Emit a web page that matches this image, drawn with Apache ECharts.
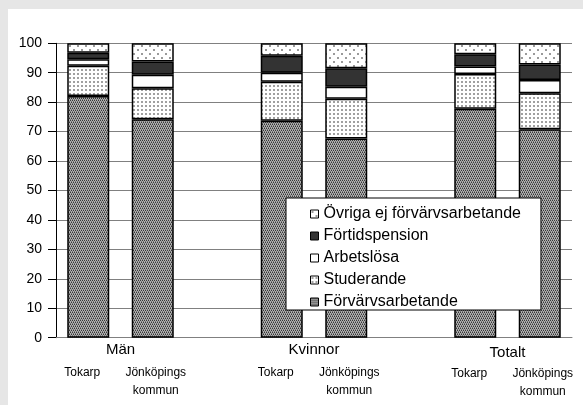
<!DOCTYPE html>
<html>
<head>
<meta charset="utf-8">
<script src="https://cdn.jsdelivr.net/npm/echarts@6/dist/echarts.min.js"></script>
<style>
html,body{margin:0;padding:0;width:583px;height:405px;overflow:hidden;background:#e6e6e6;}
#panel{position:absolute;left:8px;top:9px;width:575px;height:396px;background:#fff;}
#chart{position:absolute;left:0;top:0;width:583px;height:405px;}
</style>
</head>
<body>
<div id="panel"></div>
<div id="chart"></div>
<script>
// ---- data ----
var groups = ['Män', 'Kvinnor', 'Totalt'];
var places = ['Tokarp', 'Jönköpings kommun'];
var seriesNames = ['Förvärvsarbetande', 'Studerande', 'Arbetslösa', 'Förtidspension', 'Övriga ej förvärvsarbetande'];
// order of bars: Män Tokarp, Män Jönköping, Kvinnor Tokarp, Kvinnor Jönköping, Totalt Tokarp, Totalt Jönköping
var forvarvs  = [82.1, 74.2, 73.7, 67.7, 77.8, 70.8];
var studerande = [10.3, 10.5, 13.2, 13.5, 11.8, 12.2];
var arbetslosa = [2.2, 4.6, 3.1, 4.0, 2.5, 4.5];
var fortids   = [2.2, 4.5, 5.8, 6.3, 4.2, 5.3];
var ovriga    = [3.2, 6.2, 4.2, 8.5, 3.7, 7.2];
var yTicks = [0, 10, 20, 30, 40, 50, 60, 70, 80, 90, 100];

// ---- build category slots (blank slot between groups) ----
var cats = [];
var slotMap = []; // index into values or -1
groups.forEach(function (g, gi) {
  places.forEach(function (p, pi) { cats.push(p); slotMap.push(gi * 2 + pi); });
  if (gi < groups.length - 1) { cats.push(''); slotMap.push(-1); }
});
function slots(arr) { return slotMap.map(function (i) { return i < 0 ? '-' : arr[i]; }); }
// group label positions on a 0..N value scale (centre of each pair)
var groupPos = {};
groups.forEach(function (g, gi) { groupPos[gi * 3 + 1] = gi; });

// ---- patterns ----
function pattern(size, draw) {
  var c = document.createElement('canvas');
  c.width = size; c.height = size;
  var ctx = c.getContext('2d');
  draw(ctx, size);
  return { image: c, repeat: 'repeat' };
}
var patForv = pattern(4, function (ctx) {
  ctx.fillStyle = '#b0b0b0'; ctx.fillRect(0, 0, 4, 4);
  ctx.fillStyle = '#383838';
  ctx.fillRect(0, 0, 1, 1); ctx.fillRect(2, 0, 1, 1);
  ctx.fillRect(1, 2, 1, 1); ctx.fillRect(3, 2, 1, 1);
  ctx.fillStyle = '#747474';
  ctx.fillRect(1, 1, 1, 1); ctx.fillRect(3, 1, 1, 1);
  ctx.fillRect(0, 3, 1, 1); ctx.fillRect(2, 3, 1, 1);
});
var patStud = pattern(4, function (ctx) {
  ctx.fillStyle = '#ffffff'; ctx.fillRect(0, 0, 4, 4);
  ctx.fillStyle = '#a0a0a0'; ctx.fillRect(1, 1, 2, 2);
});
var patOvr = pattern(8, function (ctx) {
  ctx.fillStyle = '#ffffff'; ctx.fillRect(0, 0, 8, 8);
  ctx.fillStyle = '#9a9a9a'; ctx.fillRect(1, 1, 2, 2); ctx.fillRect(5, 5, 2, 2);
});
var fills = [patForv, patStud, '#ffffff', '#333333', patOvr];
var values = [forvarvs, studerande, arbetslosa, fortids, ovriga];

var font = "'Liberation Sans', Arial, sans-serif";

var series = seriesNames.map(function (n, i) {
  return {
    name: n, type: 'bar', stack: 'all', barWidth: 42,
    data: slots(values[i]),
    itemStyle: { color: fills[i], borderColor: '#000', borderWidth: 1.5 },
    emphasis: { disabled: true }
  };
});

var chart = echarts.init(document.getElementById('chart'), null, { renderer: 'canvas' });
chart.setOption({
  animation: false,
  backgroundColor: 'transparent',
  grid: { left: 56, right: 11, top: 43.3, bottom: 67.3, containLabel: false, outerBoundsMode: 'none' },
  legend: {
    data: seriesNames.slice().reverse(),
    orient: 'vertical', left: 286, top: 198,
    backgroundColor: '#fff', borderColor: '#000', borderWidth: 1,
    padding: [8, 20, 0, 24], itemGap: 6, itemWidth: 8, itemHeight: 8,
    icon: 'rect',
    itemStyle: { borderColor: '#000', borderWidth: 1 },
    textStyle: { fontFamily: font, fontSize: 16, lineHeight: 16, color: '#000' },
    selectedMode: false
  },
  xAxis: [{
    type: 'category', data: cats, gridIndex: 0,
    axisLine: { show: true, lineStyle: { color: '#808080', width: 1 } },
    axisTick: { show: false },
    axisLabel: {
      interval: 0, margin: 26, color: '#000', fontFamily: font, fontSize: 12,
      formatter: function (v, idx) {
        if (!v) return '';
        var late = idx >= 6;
        if (v === places[0]) return late ? '{t2|' + v + '}' : '{t|' + v + '}';
        var parts = v.split(' ');
        var s = late ? 'j2' : 'j';
        return '{' + s + '|' + parts[0] + '}\n{' + s + '|' + parts[1] + '}';
      },
      rich: {
        t: { fontFamily: font, fontSize: 12, lineHeight: 18, padding: [0, 12, 0, 0] },
        t2: { fontFamily: font, fontSize: 12, lineHeight: 18, padding: [2, 12, 0, 0] },
        j: { fontFamily: font, fontSize: 12, lineHeight: 18, padding: [0, 0, 0, 6] },
        j2: { fontFamily: font, fontSize: 12, lineHeight: 18, padding: [2, 0, 0, 6] }
      }
    }
  }, {
    type: 'value', min: 0, max: cats.length, interval: 1, position: 'bottom', gridIndex: 0,
    axisLine: { show: false }, axisTick: { show: false }, splitLine: { show: false },
    axisLabel: {
      margin: 5, color: '#000', fontFamily: font, fontSize: 15,
      showMinLabel: true, showMaxLabel: true,
      formatter: function (v) {
        var gi = groupPos[v];
        if (gi === undefined) return '';
        return gi === 2 ? '{g2|' + groups[gi] + '}' : '{g|' + groups[gi] + '}';
      },
      rich: {
        g: { fontFamily: font, fontSize: 15 },
        g2: { fontFamily: font, fontSize: 15, padding: [3, 0, 0, 0] }
      }
    }
  }],
  yAxis: {
    type: 'value', min: yTicks[0], max: yTicks[yTicks.length - 1], interval: yTicks[1] - yTicks[0],
    axisLine: { show: true, lineStyle: { color: '#000', width: 1 } },
    axisTick: { show: true, length: 8, lineStyle: { color: '#000' } },
    splitLine: { show: true, lineStyle: { color: '#808080', width: 1 } },
    axisLabel: { margin: 14, color: '#000', fontFamily: font, fontSize: 14 }
  },
  series: series
});
</script>
</body>
</html>
